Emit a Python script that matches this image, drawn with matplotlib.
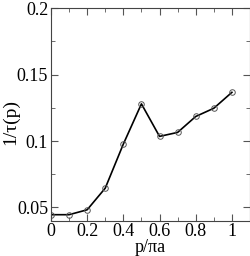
#!/usr/bin/env python3
import matplotlib
matplotlib.use('Agg')
import matplotlib.pyplot as plt
from matplotlib.ticker import MultipleLocator

p = [0.0, 0.1, 0.2, 0.3, 0.4, 0.5, 0.6, 0.7, 0.8, 0.9, 1.0]
inv_tau = [0.0445, 0.0445, 0.0482, 0.0645, 0.0977, 0.128, 0.1035, 0.1065, 0.1185, 0.1247, 0.1367]

plt.rcParams['font.family'] = ['Liberation Serif', 'DejaVu Serif']

fig = plt.figure(figsize=(2.51, 2.56), dpi=100)
ax = fig.add_axes([0.203, 0.138, 0.793, 0.8295])
ax.plot(p, inv_tau, color='black', lw=1.2, marker='o', ms=4,
        mfc='none', mec='#555555', mew=0.7)
ax.set_xlim(0, 1.1)
ax.set_ylim(0.04, 0.2)
ax.xaxis.set_minor_locator(MultipleLocator(0.1))
ax.yaxis.set_minor_locator(MultipleLocator(0.025))
ax.set_xticks([0, 0.2, 0.4, 0.6, 0.8, 1.0])
ax.set_xticklabels(['0', '0.2', '0.4', '0.6', '0.8', '1'])
ax.set_yticks([0.05, 0.1, 0.15, 0.2])
ax.set_yticklabels(['0.05', '0.1', '0.15', '0.2'])
ax.tick_params(which='both', direction='in', top=True, right=True,
               labelsize=13, pad=2, color='#555555')
ax.tick_params(which='major', length=5)
ax.tick_params(which='minor', length=3)
for s in ax.spines.values():
    s.set_linewidth(0.8)
    s.set_color('#444444')
ax.set_xlabel('p/\u03c0a', fontsize=13, labelpad=-1)
ax.set_ylabel('1/\u03c4(p)', fontsize=14)
ax.yaxis.set_label_coords(-0.16, 0.465)
fig.savefig('out.png', dpi=100)
